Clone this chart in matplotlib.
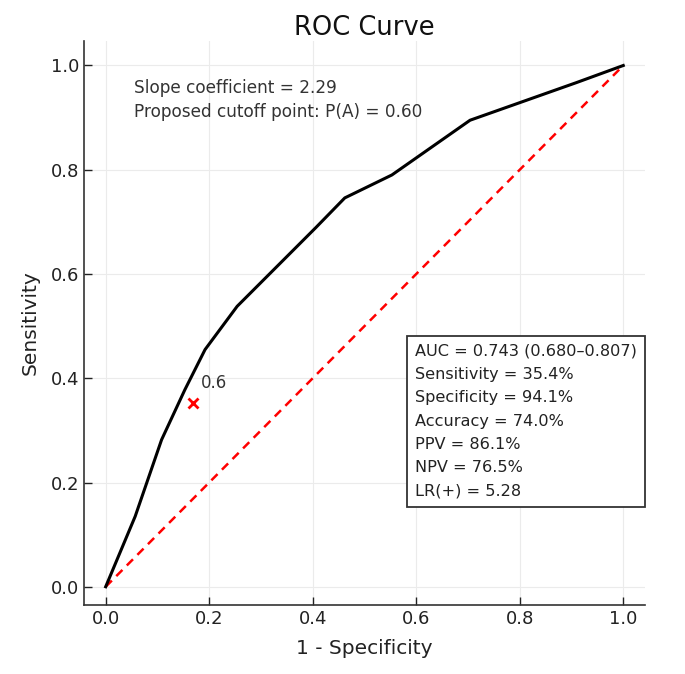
import matplotlib
matplotlib.use("Agg")
import matplotlib.pyplot as plt

# ROC curve data (1 - specificity, sensitivity)
fpr = [0.0, 0.057, 0.108, 0.153, 0.192, 0.254, 0.406, 0.462, 0.553, 0.704, 0.909, 1.0]
tpr = [0.0, 0.135, 0.282, 0.378, 0.455, 0.538, 0.689, 0.746, 0.790, 0.895, 0.967, 1.0]

diag_x = [0.0, 1.0]
diag_y = [0.0, 1.0]

cut_x = [0.169]
cut_y = [0.353]
cut_label = "0.6"

info_lines = ["Slope coefficient = 2.29", "Proposed cutoff point: P(A) = 0.60"]
stats_lines = ["AUC = 0.743 (0.680\u20130.807)", "Sensitivity = 35.4%", "Specificity = 94.1%",
               "Accuracy = 74.0%", "PPV = 86.1%", "NPV = 76.5%", "LR(+) = 5.28"]

xticks = [0.0, 0.2, 0.4, 0.6, 0.8, 1.0]
yticks = [0.0, 0.2, 0.4, 0.6, 0.8, 1.0]

fig = plt.figure(figsize=(6.85, 6.74), dpi=100)
ax = fig.add_axes([84.3/685, 1-605/674, (645-84.3)/685, (605-41)/674])

ax.plot(diag_x, diag_y, color="red", linestyle=(0, (3.5, 2.5)), linewidth=1.8, zorder=2)
ax.plot(fpr, tpr, color="black", linewidth=2.2, zorder=3)
ax.plot(cut_x, cut_y, marker="x", color="red", markersize=7, markeredgewidth=2, linestyle="none", zorder=4)
ax.text(0.184, 0.390, cut_label, fontsize=12, color="#333333", va="center", ha="left")

ax.text(0.055, 0.957, info_lines[0], fontsize=12.2, color="#333333", va="center", ha="left")
ax.text(0.055, 0.911, info_lines[1], fontsize=12.2, color="#333333", va="center", ha="left")

ax.text(0.598, 0.466, "\n".join(stats_lines), fontsize=11.6, color="#222222", va="top", ha="left",
        linespacing=1.69, transform=ax.transData,
        bbox=dict(boxstyle="square,pad=0.5", facecolor="white", edgecolor="#333333", linewidth=1.3))

ax.set_xlim(-0.0413, 1.042)
ax.set_ylim(-0.035, 1.047)
ax.set_xticks(xticks)
ax.set_yticks(yticks)
ax.set_xticklabels([f"{t:.1f}" for t in xticks])
ax.set_yticklabels([f"{t:.1f}" for t in yticks])
ax.tick_params(direction="in", length=6, labelsize=13, colors="#222222", width=1)
ax.grid(True, color="#ebebeb", linewidth=0.8)
ax.set_axisbelow(True)
for s in ["top", "right"]:
    ax.spines[s].set_visible(False)
for s in ["left", "bottom"]:
    ax.spines[s].set_color("#333333")
    ax.spines[s].set_linewidth(1.2)

ax.set_xlabel("1 - Specificity", fontsize=14.5, color="#222222", labelpad=8)
ax.set_ylabel("Sensitivity", fontsize=14.5, color="#222222", labelpad=8)
ax.set_title("ROC Curve", fontsize=18.5, color="#111111", pad=4)

fig.savefig("out.png", dpi=100)
